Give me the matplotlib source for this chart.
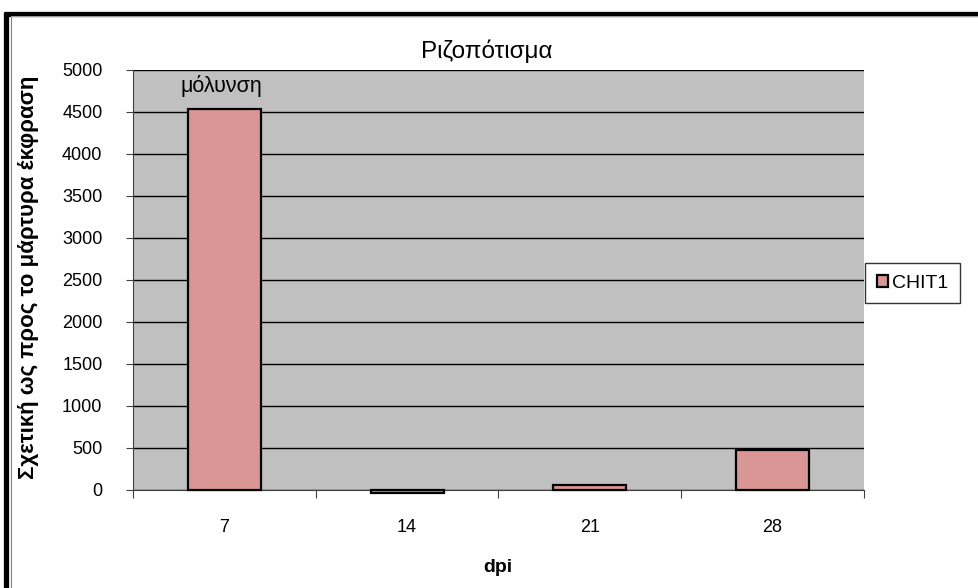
import matplotlib
matplotlib.use("Agg")
import matplotlib.pyplot as plt
from matplotlib.lines import Line2D
import numpy as np

plt.rcParams['font.family'] = ['Liberation Sans', 'DejaVu Sans']

categories = ["7", "14", "21", "28"]
values = [4530, -30, 60, 480]
series_name = "CHIT1"
title = "Ριζοπότισμα"
ylabel = "Σχετική ως προς το μάρτυρα έκφραση"
xlabel = "dpi"
annotation = "μόλυνση"
yticks = list(range(0, 5001, 500))

fig = plt.figure(figsize=(9.79, 5.88), dpi=100)
ax = fig.add_axes([133/979, 1-490/588, (864-133)/979, (490-70)/588])
ax.set_facecolor("#C0C0C0")

x = np.arange(len(categories))
bars = ax.bar(x, values, width=0.4, color="#D99694", edgecolor="black", linewidth=1.6,
              label=series_name, zorder=3)
for p in bars:
    p.set_clip_on(False)

ax.set_ylim(0, 5000)
ax.set_xlim(-0.5, len(categories) - 0.5)
ax.set_yticks(yticks)
ax.yaxis.grid(True, color="black", linewidth=1.0, zorder=0)
ax.set_axisbelow(True)
ax.tick_params(axis="y", direction="out", length=5, width=0.8, color="#404040",
               labelsize=13, pad=17)

# category boundary ticks (major, no labels) + centered labels (minor)
ax.set_xticks(np.arange(-0.5, len(categories), 1.0))
ax.set_xticklabels([])
ax.set_xticks(x, minor=True)
ax.set_xticklabels(categories, minor=True)
ax.tick_params(axis="x", which="major", direction="out", length=6, width=0.8, color="#404040")
ax.tick_params(axis="x", which="minor", length=0, labelsize=13, pad=21)

for s in ["top", "right"]:
    ax.spines[s].set_visible(False)
ax.spines["left"].set_color("#404040")
ax.spines["bottom"].set_color("#404040")
ax.spines["left"].set_linewidth(0.8)
ax.spines["bottom"].set_linewidth(0.8)

fig.text(487/979, 1-58/588, title, ha="center", va="baseline", fontsize=17.5)
fig.text(29/979, 1-277/588, ylabel, ha="center", va="center", rotation=90,
         fontsize=16, fontweight="bold")
fig.text(498/979, 1-567/588, xlabel, ha="center", va="center", fontsize=14, fontweight="bold")
fig.text(221/979, 1-92/588, annotation, ha="center", va="baseline", fontsize=15.5)

leg = fig.legend(handles=[bars], labels=[series_name], loc="upper left",
                 bbox_to_anchor=(865/979, 1-263/588), frameon=True, fancybox=False,
                 fontsize=14, handlelength=0.6, handleheight=0.6, handletextpad=0.2,
                 borderpad=0.6, borderaxespad=0)
leg.get_frame().set_edgecolor("black")
leg.get_frame().set_linewidth(1.0)

# chart border (thick black top and left, with thin gray inner lines)
fig.add_artist(Line2D([4/979, 1], [1-13.5/588, 1-13.5/588], transform=fig.transFigure,
                      color="black", linewidth=3.8, solid_capstyle="butt"))
fig.add_artist(Line2D([6.5/979, 6.5/979], [0, 1-11.6/588], transform=fig.transFigure,
                      color="black", linewidth=3.8, solid_capstyle="butt"))
fig.add_artist(Line2D([10.5/979, 10.5/979], [0, 1-16/588], transform=fig.transFigure,
                      color="#808080", linewidth=0.8))
fig.add_artist(Line2D([10.5/979, 1], [1-16.3/588, 1-16.3/588], transform=fig.transFigure,
                      color="#A0A0A0", linewidth=0.7))

fig.savefig("out.png", dpi=100, facecolor="white")
